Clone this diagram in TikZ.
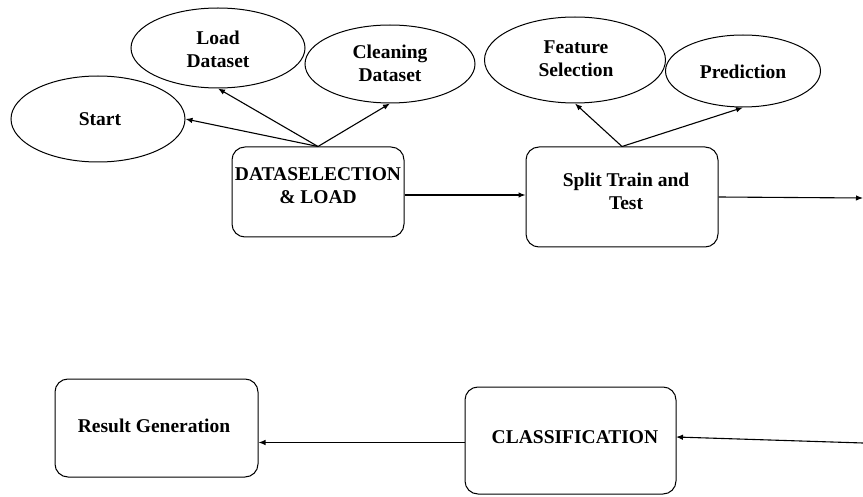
\documentclass[tikz,border=0pt]{standalone}
\usepackage{fontspec}
\setmainfont{Liberation Serif}
\usetikzlibrary{shapes.geometric,arrows.meta}
\tikzset{
  oval/.style={ellipse,draw,line width=1pt,inner sep=0pt},
  procbox/.style={draw,rounded corners=13pt,line width=1pt,inner sep=0pt},
  lbl/.style={font=\bfseries\fontsize{19.5}{23}\selectfont,align=center,inner sep=0pt},
  conn/.style={line width=1.1pt,-{Latex[length=7pt,width=5.5pt]}}
}
\begin{document}
\begin{tikzpicture}[x=1pt,y=-1pt]
\useasboundingbox (0,0) rectangle (863,497);
% ellipses
\node[oval,minimum width=174pt,minimum height=86pt] (start) at (98,119) {};
\node[lbl] (startT) at (100,119) {Start};
\node[oval,minimum width=174pt,minimum height=80pt] (load) at (218,48) {};
\node[lbl] (loadT) at (218,49) {Load\\Dataset};
\node[oval,minimum width=170pt,minimum height=78pt] (clean) at (390,64) {};
\node[lbl] (cleanT) at (390,63) {Cleaning\\Dataset};
\node[oval,minimum width=181pt,minimum height=86pt] (feat) at (575,60) {};
\node[lbl] (featT) at (576,59) {Feature\\Selection};
\node[oval,minimum width=155pt,minimum height=72pt] (pred) at (743,71) {};
\node[lbl] (predT) at (743,72) {Prediction};
% boxes
\node[procbox,minimum width=172pt,minimum height=90pt] (dsl) at (318,192) {};
\node[lbl] (dslT) at (318,186) {DATASELECTION\\\&~LOAD};
\node[procbox,minimum width=192pt,minimum height=100pt] (split) at (622,197) {};
\node[lbl] (splitT) at (626,191) {Split Train and\\Test};
\node[procbox,minimum width=211pt,minimum height=107pt] (cls) at (570.5,440.5) {};
\node[lbl] (clsT) at (575,437) {CLASSIFICATION};
\node[procbox,minimum width=203pt,minimum height=98pt] (res) at (156.5,428) {};
\node[lbl] (resT) at (154,426) {Result Generation};
% free ends at the right edge
\coordinate (edgeA) at (863,198);
\coordinate (edgeB) at (863,443);
\coordinate (clsIn) at (676,437);
% connectors
\draw[conn] (dsl.north) -- (start.east);
\draw[conn] (dsl.north) -- (load.south);
\draw[conn] (dsl.north) -- (clean.south);
\draw[conn] (split.north) -- (feat.south);
\draw[conn] (split.north) -- (pred.south);
\draw[conn] ([yshift=-3pt]dsl.east) -- ([yshift=-3pt]dsl.east -| split.west);
\draw[conn] (split.east) -- (edgeA);
\draw[conn] (edgeB) -- (clsIn);
\draw[conn] ([yshift=-2pt]cls.west) -- ([yshift=-2pt]cls.west -| res.east);
\end{tikzpicture}
\end{document}
